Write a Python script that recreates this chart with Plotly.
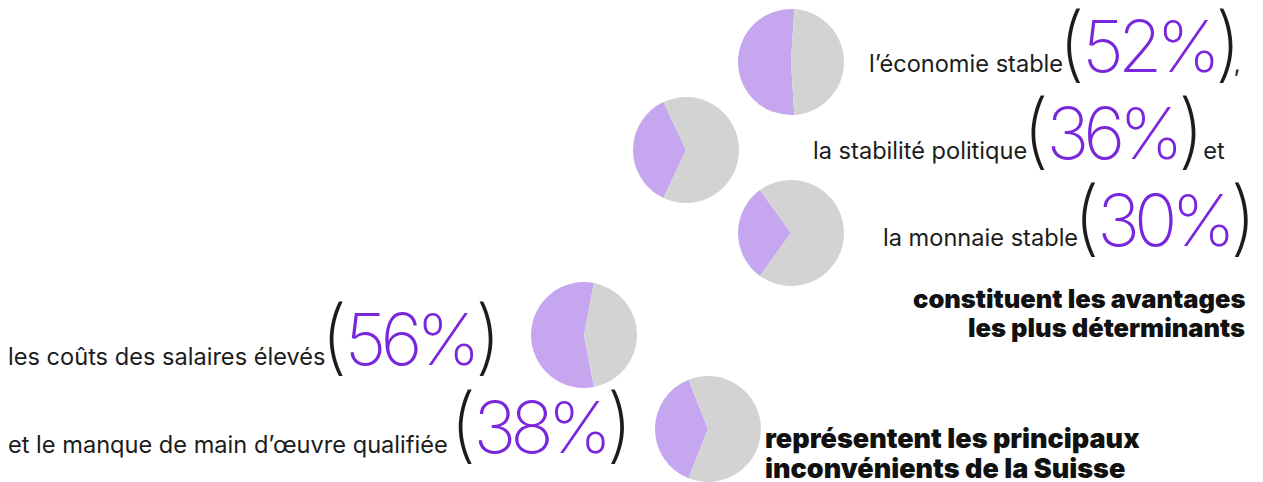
import plotly.graph_objects as go

# avantages / inconvénients (share of respondents, %)
labels = [
    "l\u2019économie stable",
    "la stabilité politique",
    "la monnaie stable",
    "les coûts des salaires élevés",
    "et le manque de main d\u2019\u0153uvre qualifiée ",
]
values = [52, 36, 30, 56, 38]
suffix = [",", " et", "", "", ""]

head_adv = ["constituent les avantages", "les plus déterminants"]
head_dis = ["représentent les principaux", "inconvénients de la Suisse"]

# page has an 8px body margin, so the figure is drawn 8px in from the corner
OFF = 8
W, H = 1263 - OFF, 482 - OFF
PURPLE = "#c6a6ef"
GREY = "#d3d3d3"
NUM = "#7a26dd"
INK = "#1c1c1c"

# pie centres (px, in the screenshot) and radius
centres = [(791, 62), (686, 150), (791, 233), (584, 335), (708, 429)]
R = 53


def px(x):
    return (x - OFF) / W


def py(y):
    return min(1, max(0, 1 - (y - OFF) / H))


fig = go.Figure()

for (cx, cy), v in zip(centres, values):
    p = v / 100
    rot = (270 - p * 180 + 180) % 360 - 180
    r = min(R, 482 - cy)
    fig.add_trace(go.Pie(
        values=[v, 100 - v],
        marker=dict(colors=[PURPLE, GREY], line=dict(width=0)),
        sort=False,
        direction="clockwise",
        rotation=rot,
        textinfo="none",
        hoverinfo="skip",
        showlegend=False,
        domain=dict(x=[px(cx - r), px(cx + r)], y=[py(cy + r), py(cy - r)]),
    ))

NUMS = "font-family:Inter;font-size:72px;font-weight:230;"
PAR = "font-family:Inter;font-size:82px;font-weight:190;"


def row(lab, v, suf):
    # pull the last label glyph in, so the bracket sits close to the words
    head = lab[:-1] + "<span style='letter-spacing:-5px'>%s</span>" % lab[-1]
    big = ("<span style='%scolor:%s;letter-spacing:-3px'>(</span>"
           "<span style='%scolor:%s;letter-spacing:-6px'>%d%%</span>"
           "<span style='%scolor:%s;letter-spacing:-8px'>)</span>") % (
        PAR, INK, NUMS, NUM, v, PAR, INK)
    return head + big + suf


# (x, baseline y, xanchor) for each row, in screenshot px
rows_pos = [(1243, 70, "right"), (1227, 157, "right"), (1251, 243, "right"),
            (6, 362, "left"), (6, 450, "left")]
BASE_TO_MID = 27

for (x, y, xa), lab, v, suf in zip(rows_pos, labels, values, suffix):
    fig.add_annotation(
        x=px(x), y=py(y - BASE_TO_MID), xref="paper", yref="paper",
        xanchor=xa, yanchor="middle",
        text=row(lab, v, suf), showarrow=False,
        font=dict(family="Inter", size=23.6, color=INK, weight=400),
    )

for i, line in enumerate(head_adv):
    fig.add_annotation(
        x=px(1247), y=py(298 + 29 * i), xref="paper", yref="paper",
        xanchor="right", yanchor="middle",
        text=line, showarrow=False,
        font=dict(family="Inter", size=25.5, color="#111111", weight=900),
    )
for i, line in enumerate(head_dis):
    fig.add_annotation(
        x=px(763), y=py(438 + 30 * i), xref="paper", yref="paper",
        xanchor="left", yanchor="middle",
        text=line, showarrow=False,
        font=dict(family="Inter", size=27, color="#111111", weight=900),
    )

fig.update_layout(
    width=W, height=H,
    margin=dict(l=0, r=0, t=0, b=0),
    paper_bgcolor="white",
    plot_bgcolor="white",
)

fig.write_html("out.html")
